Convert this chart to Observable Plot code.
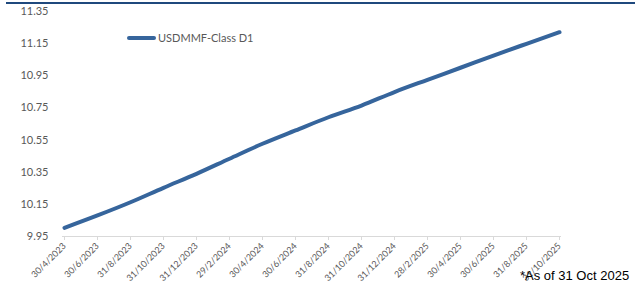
<!DOCTYPE html>
<html>
<head>
<meta charset="utf-8">
<script src="https://cdn.jsdelivr.net/npm/d3@7"></script>
<script src="https://cdn.jsdelivr.net/npm/@observablehq/plot@0.6"></script>
<style>
  html, body { margin: 0; padding: 0; background: #fff; }
  #wrap { position: relative; width: 637px; height: 285px; overflow: hidden; }
  #topline { position: absolute; left: 6px; top: 2px; width: 629px; height: 2px; background: #1F497D; }
  #legend { position: absolute; left: 127px; top: 31px; font-family: Lato, "Open Sans", sans-serif; font-size: 11px; color: #595959; display: flex; align-items: center; }
  #legend .swatch { display: inline-block; width: 29px; height: 4px; background: #36659C; border-radius: 2px; margin-right: 2px; }
  #caption { position: absolute; left: 520px; top: 268px; font-family: "Liberation Sans", Arial, sans-serif; font-size: 13px; color: #000; white-space: nowrap; }
</style>
</head>
<body>
<div id="wrap">
  <div id="chart"></div>
  <div id="topline"></div>
  <div id="legend"><span class="swatch"></span><span>USDMMF-Class D1</span></div>
  <div id="caption">*As of 31 Oct 2025</div>
</div>
<script>
const dates = ["30/4/2023","30/6/2023","31/8/2023","31/10/2023","31/12/2023","29/2/2024","30/4/2024","30/6/2024","31/8/2024","31/10/2024","31/12/2024","28/2/2025","30/4/2025","30/6/2025","31/8/2025","31/10/2025"];
const nav = [10.004,10.081,10.163,10.253,10.340,10.434,10.527,10.610,10.692,10.765,10.849,10.925,11.000,11.076,11.149,11.221];
const yTicks = [9.95,10.15,10.35,10.55,10.75,10.95,11.15,11.35];
const seriesName = "USDMMF-Class D1";

const data = dates.map((d, i) => ({date: d, value: nav[i]}));

const chart = Plot.plot({
  width: 637,
  height: 285,
  marginTop: 11,
  marginBottom: 49,
  marginLeft: 62,
  marginRight: 76,
  style: {fontFamily: "Lato, 'Open Sans', sans-serif", background: "transparent"},
  x: {type: "point", domain: dates, padding: 0},
  y: {domain: [9.95, 11.35]},
  marks: [
    Plot.axisY({ticks: yTicks, tickSize: 0, tickPadding: 14, tickFormat: d3.format(".2f"), label: null, fill: "#595959", fontSize: 11}),
    Plot.ruleY([9.95], {stroke: "#d9d9d9", strokeWidth: 1}),
    Plot.axisX({tickSize: 4, stroke: "#d9d9d9", tickFormat: () => "", label: null}),
    Plot.axisX({tickSize: 0, tickPadding: 8, tickRotate: -45, label: null, fill: "#595959", fontSize: 9}),
    Plot.line(data, {x: "date", y: "value", stroke: "#36659C", strokeWidth: 4, strokeLinecap: "round", strokeLinejoin: "round", curve: "monotone-x"})
  ]
});
document.getElementById("chart").appendChild(chart);
</script>
</body>
</html>
